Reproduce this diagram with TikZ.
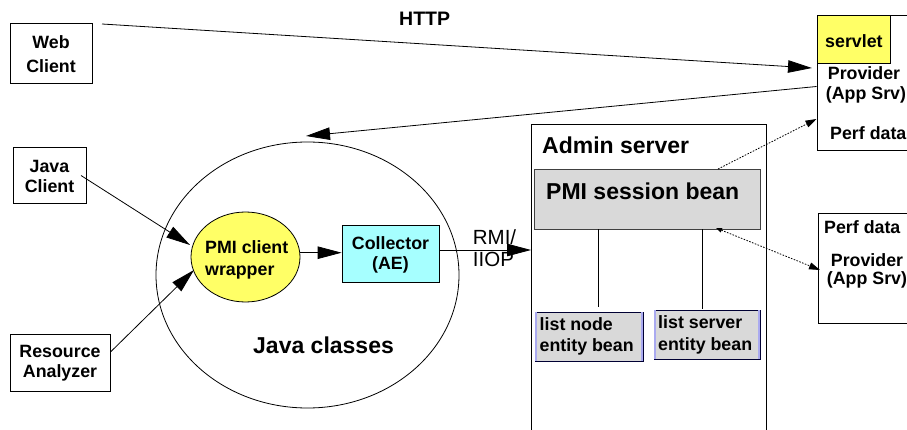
\documentclass[tikz,border=0pt]{standalone}
\usepackage{fontspec}
\setmainfont{Liberation Sans}
\usetikzlibrary{arrows.meta,shapes.geometric}
\definecolor{wrapyellow}{RGB}{255,255,102}
\definecolor{collcyan}{RGB}{166,255,255}
\definecolor{beangray}{RGB}{217,217,217}
\definecolor{lavender}{RGB}{170,170,240}
\tikzset{
  box/.style={draw=black, line width=0.8pt, inner sep=0pt},
  lbl/.style={font=\bfseries\fontsize{17.8}{21}\selectfont, inner sep=0pt, align=center},
  biglbl/.style={font=\bfseries\fontsize{23}{27}\selectfont, inner sep=0pt},
  conn/.style={line width=0.8pt, -{Triangle[length=24pt,width=12.5pt]}},
  dotconn/.style={line width=0.8pt, dash pattern=on 1.6pt off 1.4pt},
}
\begin{document}
\begin{tikzpicture}[x=1pt,y=-1pt]
\useasboundingbox (0,0) rectangle (907,430);
\clip (0,0) rectangle (907,430);
\fill[white] (0,0) rectangle (907,430);

% Web client
\node[box, minimum width=82pt, minimum height=60pt] (web) at (51,53) {};
\node[lbl, font=\bfseries\fontsize{17.8}{23.5}\selectfont] (webt) at (51,54) {Web\\Client};

% HTTP
\node[font=\bfseries\fontsize{19.5}{23}\selectfont, inner sep=0pt, anchor=base west] (http) at (399,25.7) {HTTP};

% Provider 1
\node[box, minimum width=95pt, minimum height=135pt] (prov1) at (864.5,82.5) {};
\node[box, fill=wrapyellow, minimum width=73pt, minimum height=48pt] (servlet) at (853.5,39) {};
\node[lbl, anchor=base west] (servt) at (825,48) {servlet};
\node[lbl, anchor=base] (prov1a) at (864,80) {Provider};
\node[lbl, anchor=base] (prov1b) at (866,100) {(App Srv)};
\node[lbl, anchor=base west] (prov1c) at (830,140) {Perf data};

% Provider 2
\node[box, minimum width=95pt, minimum height=110pt] (prov2) at (865.5,268) {};
\node[lbl, anchor=base west] (prov2c) at (824,234) {Perf data};
\node[lbl, anchor=base] (prov2a) at (867,266.5) {Provider};
\node[lbl, anchor=base] (prov2b) at (867,284) {(App Srv)};

% Java classes ellipse
\node[draw, line width=0.8pt, ellipse, minimum width=303pt, minimum height=266pt, inner sep=0pt] (jc) at (307.5,275) {};
\node[biglbl, anchor=base west] (jct) at (253,353) {Java classes};

% Java client, Resource Analyzer
\node[box, minimum width=73pt, minimum height=56pt] (java) at (49.5,175) {};
\node[lbl, font=\bfseries\fontsize{17.8}{20}\selectfont] (javat) at (49.5,176) {Java\\Client};
\node[box, minimum width=100pt, minimum height=57pt] (ra) at (60,362.5) {};
\node[lbl, font=\bfseries\fontsize{17.8}{20}\selectfont] (rat) at (60,363) {Resource\\Analyzer};

% PMI client wrapper
\node[draw, line width=0.8pt, fill=wrapyellow, ellipse, minimum width=109pt, minimum height=90pt, inner sep=0pt] (wrap) at (245.5,257) {};
\node[lbl, align=left, anchor=base west] (wrapa) at (205,253.3) {PMI client};
\node[lbl, align=left, anchor=base west] (wrapb) at (205,276) {wrapper};

% Collector
\node[box, fill=collcyan, minimum width=97pt, minimum height=57pt] (coll) at (390.5,253.5) {};
\node[lbl, font=\bfseries\fontsize{17.8}{20}\selectfont] (collt) at (390.5,255) {Collector\\(AE)};

% RMI/IIOP
\node[font=\fontsize{20.5}{24}\selectfont, inner sep=0pt, anchor=base west] (rmi) at (472.7,245) {RMI/};
\node[font=\fontsize{20.5}{24}\selectfont, inner sep=0pt, anchor=base west] (iiop) at (472.7,266.5) {IIOP};

% Admin server
\node[box, minimum width=235pt, minimum height=340pt] (admin) at (648.5,294) {};
\coordinate (adminL) at (531,250);
\node[biglbl, anchor=base west] (admint) at (542,154) {Admin server};

% PMI session bean
\node[box, fill=beangray, draw=black!75, minimum width=226pt, minimum height=60pt] (sess) at (647,199) {};
\node[biglbl, anchor=base west] (sesst) at (546,200) {PMI session bean};

% entity beans
\node[box, fill=beangray, draw=black!80!blue, minimum width=108pt, minimum height=49pt] (node) at (589,336.5) {};
\fill[lavender] ([xshift=0.5pt,yshift=-0.5pt]node.north west) rectangle ([xshift=2.8pt,yshift=0.5pt]node.south west);
\fill[lavender] ([xshift=-2.8pt,yshift=-0.5pt]node.north east) rectangle ([xshift=-0.5pt,yshift=0.5pt]node.south east);
\node[lbl, align=left, anchor=base west] (nodea) at (539.5,330) {list node};
\node[lbl, align=left, anchor=base west] (nodeb) at (539.5,351.5) {entity bean};

\node[box, fill=beangray, draw=black!80!blue, minimum width=106pt, minimum height=49pt] (srv) at (707,334.5) {};
\fill[lavender] ([xshift=0.5pt,yshift=-0.5pt]srv.north west) rectangle ([xshift=2.8pt,yshift=0.5pt]srv.south west);
\fill[lavender] ([xshift=-2.8pt,yshift=-0.5pt]srv.north east) rectangle ([xshift=-0.5pt,yshift=0.5pt]srv.south east);
\node[lbl, align=left, anchor=base west] (srva) at (658,328) {list server};
\node[lbl, align=left, anchor=base west] (srvb) at (658,350) {entity bean};

% connectors
\coordinate (httpS) at (102,24);
\coordinate (httpE) at (812,68);
\draw[conn] (httpS) -- (httpE);
\coordinate (retS) at (816.5,86.5);
\coordinate (retE) at (306,136);
\draw[conn] (retS) -- (retE);
\coordinate (jcS) at (81,175.5);
\coordinate (jcE) at (190,245);
\draw[conn] (jcS) -- (jcE);
\coordinate (raS) at (111,351.5);
\coordinate (raE) at (194,270);
\draw[conn] (raS) -- (raE);
\draw[conn] (wrap.east |- 0,252.7) -- (coll.west |- 0,252.7);
\draw[conn] (coll.east |- 0,250) -- (adminL);
\draw[line width=0.8pt] (sess.south -| 598,0) -- (598,307);
\draw[line width=0.8pt] (sess.south -| 702,0) -- (702,309);
\coordinate (d1S) at (718,169);
\coordinate (d1E) at (816.5,119);
\draw[dotconn, -{Triangle[length=11pt,width=7pt]}] (d1S) -- (d1E);
\coordinate (d2S) at (716,228);
\coordinate (d2E) at (820,270);
\draw[dotconn, {Triangle[length=6pt,width=4.5pt]}-{Triangle[length=11pt,width=7pt]}] (d2S) -- (d2E);
\end{tikzpicture}
\end{document}
